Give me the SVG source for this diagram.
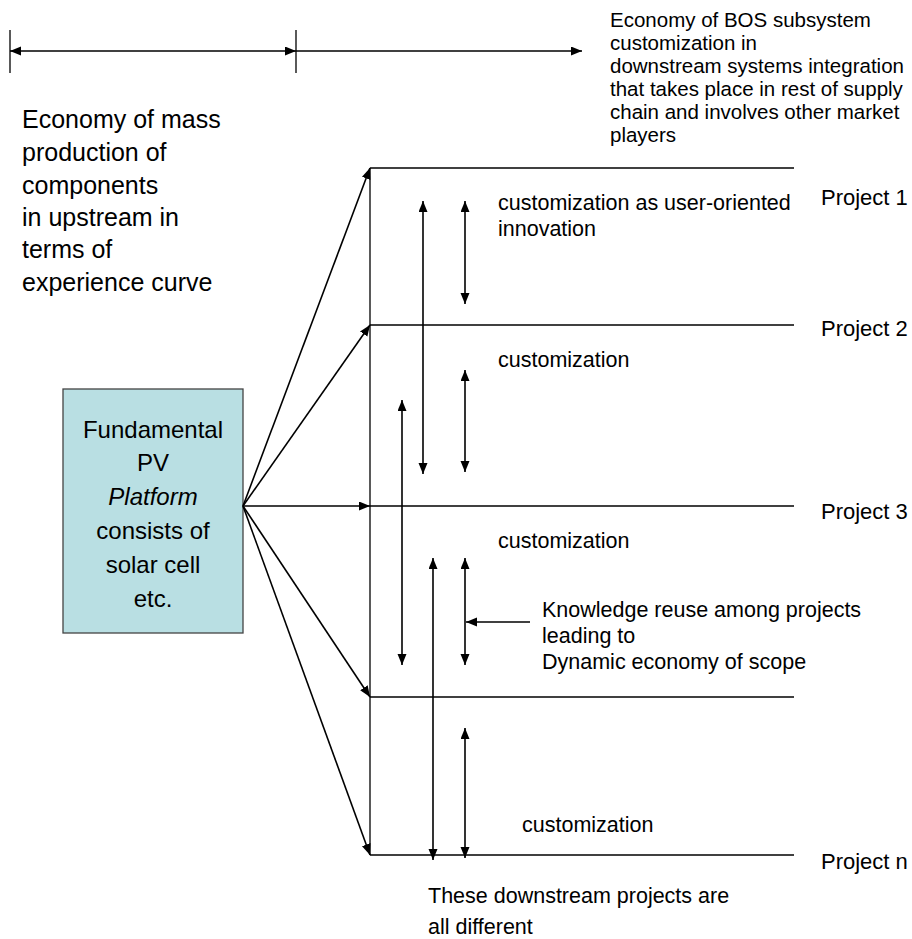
<svg xmlns="http://www.w3.org/2000/svg" width="912" height="939" viewBox="0 0 912 939">
<style>
text{font-family:"Liberation Sans",Arial,sans-serif;fill:#000}
.big{font-size:24px}
.lft{font-size:25px}
.mid{font-size:21.5px}
.top{font-size:20.5px}
.prj{font-size:22px}
.fr{stroke:#000;stroke-width:1.3;fill:none}
.ar{stroke:#000;stroke-width:1.6;fill:none;marker-end:url(#ah)}
.dar{stroke:#000;stroke-width:1.6;fill:none;marker-start:url(#ah);marker-end:url(#ah)}
</style>
<defs>
<marker id="ah" markerUnits="userSpaceOnUse" markerWidth="12" markerHeight="10" refX="11" refY="4.5" orient="auto-start-reverse">
<path d="M0,0 L11,4.5 L0,9 z" fill="#000"/>
</marker>
</defs>
<rect width="912" height="939" fill="#fff"/>

<g id="scale">
<line class="fr" x1="10" y1="30" x2="10" y2="73"/>
<line class="fr" x1="296" y1="30" x2="296" y2="73"/>
<line class="dar" x1="10" y1="51" x2="296" y2="51"/>
<line class="ar" x1="296" y1="51" x2="582" y2="51"/>
</g>

<g id="label-upstream">
<text class="lft" x="22" y="128">Economy of mass</text>
<text class="lft" x="22" y="161">production of</text>
<text class="lft" x="22" y="194">components</text>
<text class="lft" x="22" y="226">in upstream in</text>
<text class="lft" x="22" y="258">terms of</text>
<text class="lft" x="22" y="291">experience curve</text>
</g>

<g id="label-downstream">
<text class="top" x="610" y="27">Economy of BOS subsystem</text>
<text class="top" x="610" y="50">customization in</text>
<text class="top" x="610" y="73">downstream systems integration</text>
<text class="top" x="610" y="96">that takes place in rest of supply</text>
<text class="top" x="610" y="119">chain and involves other market</text>
<text class="top" x="610" y="142">players</text>
</g>

<g id="platform">
<rect x="63" y="389" width="180" height="244" fill="#b9dfe3" stroke="#444" stroke-width="1.3"/>
<text class="big" x="153" y="438" text-anchor="middle">Fundamental</text>
<text class="big" x="153" y="471" text-anchor="middle">PV</text>
<text class="big" x="153" y="505" text-anchor="middle" font-style="italic">Platform</text>
<text class="big" x="153" y="539" text-anchor="middle">consists of</text>
<text class="big" x="153" y="573" text-anchor="middle">solar cell</text>
<text class="big" x="153" y="607" text-anchor="middle">etc.</text>
</g>

<g id="projects">
<line class="fr" x1="370" y1="168" x2="370" y2="855"/>
<line class="fr" x1="370" y1="168" x2="794" y2="168"/>
<line class="fr" x1="370" y1="325" x2="794" y2="325"/>
<line class="fr" x1="370" y1="506" x2="794" y2="506"/>
<line class="fr" x1="370" y1="697" x2="794" y2="697"/>
<line class="fr" x1="370" y1="855" x2="794" y2="855"/>
<text class="prj" x="821" y="205">Project 1</text>
<text class="prj" x="821" y="336">Project 2</text>
<text class="prj" x="821" y="519">Project 3</text>
<text class="prj" x="821" y="869">Project n</text>
</g>

<g id="connectors">
<line class="ar" x1="243" y1="506" x2="370" y2="168"/>
<line class="ar" x1="243" y1="506" x2="370" y2="325"/>
<line class="ar" x1="243" y1="506" x2="370" y2="506"/>
<line class="ar" x1="243" y1="506" x2="370" y2="697"/>
<line class="ar" x1="243" y1="506" x2="370" y2="855"/>
<line class="dar" x1="423" y1="201" x2="423" y2="474"/>
<line class="dar" x1="465" y1="201" x2="465" y2="304"/>
<line class="dar" x1="402" y1="400" x2="402" y2="665"/>
<line class="dar" x1="465" y1="370" x2="465" y2="472"/>
<line class="dar" x1="433" y1="558" x2="433" y2="860"/>
<line class="dar" x1="465" y1="558" x2="465" y2="665"/>
<line class="dar" x1="465" y1="728" x2="465" y2="858"/>
<line class="ar" x1="530" y1="622" x2="466" y2="622"/>
</g>

<g id="labels">
<text class="mid" x="498" y="210">customization as user-oriented</text>
<text class="mid" x="498" y="236">innovation</text>
<text class="mid" x="498" y="367">customization</text>
<text class="mid" x="498" y="548">customization</text>
<text class="mid" x="542" y="617">Knowledge reuse among projects</text>
<text class="mid" x="542" y="643">leading to</text>
<text class="mid" x="542" y="669">Dynamic economy of scope</text>
<text class="mid" x="522" y="832">customization</text>
<text class="mid" x="428" y="903">These downstream projects are</text>
<text class="mid" x="428" y="934">all different</text>
</g>
</svg>
